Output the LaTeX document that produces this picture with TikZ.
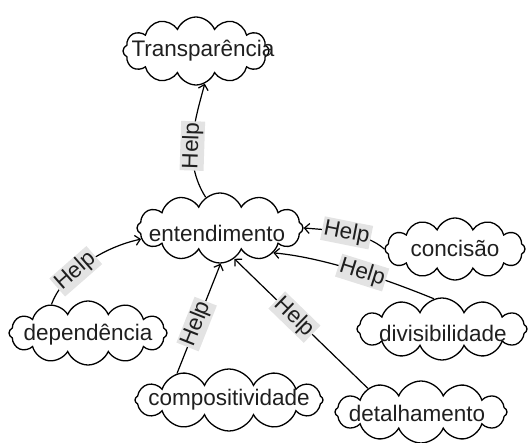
\documentclass[tikz,border=0pt]{standalone}
\usepackage{fontspec}
\setmainfont{Liberation Sans}
\usetikzlibrary{shapes.symbols,arrows.meta}
\tikzset{
  cloudn/.style={cloud, draw=black, line width=1.3pt, cloud puffs=12, cloud puff arc=135, inner sep=0pt},
  txt/.style={text=black!88, inner sep=0pt, font=\fontsize{22.5}{26}\selectfont},
  lbl/.style={fill=black!11, text=black!88, inner sep=1.5pt, font=\fontsize{22.5}{26}\selectfont, sloped},
  edge/.style={draw=black, line width=1.2pt, -{Straight Barb[length=5pt,width=10pt]}}
}
\begin{document}
\begin{tikzpicture}[x=1pt,y=-1pt]
\useasboundingbox (0,0) rectangle (531,443);
% clouds
\node[cloudn, minimum width=146pt, minimum height=68pt] (tra) at (196,51) {};
\node[cloudn, minimum width=166pt, minimum height=70pt] (ent) at (220,228) {};
\node[cloudn, minimum width=140pt, minimum height=62pt] (con) at (455,249) {};
\node[cloudn, minimum width=158pt, minimum height=64pt] (dep) at (88,333) {};
\node[cloudn, minimum width=170pt, minimum height=62pt] (div) at (442,329) {};
\node[cloudn, minimum width=188pt, minimum height=62pt] (com) at (229,400) {};
\node[cloudn, minimum width=172pt, minimum height=62pt] (det) at (421,412) {};
% texts
\node[txt] (tra-t) at (203,51) {Transparência};
\node[txt] (ent-t) at (217,233) {entendimento};
\node[txt] (con-t) at (455,248) {concisão};
\node[txt] (dep-t) at (88,335) {dependência};
\node[txt] (div-t) at (443,333) {divisibilidade};
\node[txt] (com-t) at (229,400) {compositividade};
\node[txt] (det-t) at (417,413) {detalhamento};
% edges
\draw[edge] (ent.115) .. controls (182,160) and (195,120) .. node[lbl,pos=0.45]{Help} (tra.-75);
\draw[edge] (dep.142) .. controls (62,275) and (100,248) .. node[lbl,pos=0.4]{Help} (ent.188);
\draw[edge] (com.153) -- node[lbl,pos=0.45]{Help} (ent.-89);
\draw[edge] (det.156) -- node[lbl,pos=0.55]{Help} (ent.-65);
\draw[edge] (con.west) .. controls (365,232) and (330,230) .. node[lbl,pos=0.5]{Help} (ent.east);
\draw[edge] (div.105) .. controls (400,285) and (330,258) .. node[lbl,pos=0.5]{Help} (ent.-25);
\end{tikzpicture}
\end{document}
